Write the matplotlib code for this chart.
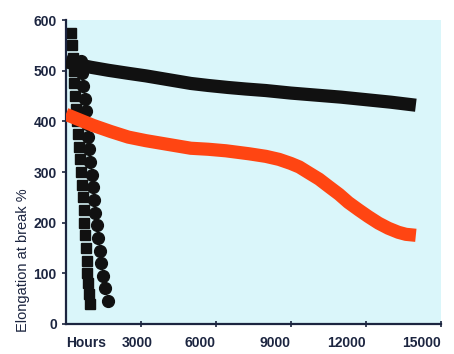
import numpy as np
import matplotlib
matplotlib.use("Agg")
import matplotlib.pyplot as plt
from matplotlib.transforms import ScaledTranslation

# ── Données ──────────────────────────────────────────────────────────────────
black_hours = [0, 500, 1000, 1700, 2500, 3200, 3800, 4400, 5000, 5700, 6500,
               7200, 8000, 9000, 10000, 11000, 12000, 13000, 14000]
black_elong = [518, 512, 507, 501, 495, 490, 485, 480, 475, 471, 467,
               464, 461, 456, 452, 448, 443, 438, 432]

orange_hours = [0, 500, 1100, 1800, 2500, 3200, 3800, 4400, 5000, 5700, 6400,
                7340, 8000, 8530, 9000, 9340, 9700, 10130, 10500, 10930, 11300,
                11720, 12100, 12510, 12900, 13300, 13600, 14000]
orange_elong = [414, 404, 392, 380, 369, 362, 357, 352, 347, 345, 342,
                336, 331, 325, 317, 310, 299, 286, 272, 256, 240,
                225, 212, 199, 189, 181, 177, 175]

sq_hours = [220, 250, 280, 310, 340, 370, 400, 440, 480, 520, 560, 600,
            640, 680, 710, 740, 770, 800, 830, 860, 900, 940, 980]
sq_elong = [575, 550, 525, 500, 475, 450, 425, 400, 375, 350, 325, 300,
            275, 250, 225, 200, 175, 150, 125, 100, 80, 60, 40]

dot_hours = [600, 650, 700, 760, 800, 850, 900, 940, 980, 1030, 1080, 1130,
             1180, 1240, 1300, 1360, 1420, 1500, 1580, 1680]
dot_elong = [520, 495, 470, 445, 420, 395, 370, 345, 320, 295, 270, 245,
             220, 195, 170, 145, 120, 95, 70, 45]

x_ticks = [3000, 6000, 9000, 12000, 15000]
y_ticks = [0, 100, 200, 300, 400, 500, 600]

NAVY = "#1c2540"
plt.rcParams["font.family"] = ["Liberation Sans", "DejaVu Sans"]

fig = plt.figure(figsize=(4.54, 3.54), dpi=100)
ax = fig.add_axes([0.145, 0.085, 0.826, 0.858])
ax.set_facecolor("#daf6fa")

# points (en dessous des courbes)
ax.plot(sq_hours, sq_elong, ls="none", marker="s", ms=7.5, color="#111111", zorder=2)
ax.plot(dot_hours, dot_elong, ls="none", marker="o", ms=8.5, color="#111111", zorder=2)

# courbes épaisses
ax.plot(black_hours, black_elong, color="#111111", lw=9.5,
        solid_capstyle="butt", solid_joinstyle="round", zorder=3)
ax.plot(orange_hours, orange_elong, color="#ff4512", lw=9.5,
        solid_capstyle="butt", solid_joinstyle="round", zorder=3)

ax.set_xlim(0, 15000)
ax.set_ylim(0, 600)
ax.set_xticks(x_ticks)
ax.set_yticks(y_ticks)
ax.tick_params(axis="both", colors=NAVY, labelsize=10, length=3, width=1.2)
ax.tick_params(axis="x", direction="inout", length=5, pad=6)
xlabs = ax.get_xticklabels()
for lab in xlabs + ax.get_yticklabels():
    lab.set_fontweight("bold")
    lab.set_color(NAVY)
for lab in xlabs:
    lab.set_ha("right")
# le « 3000 » est décalé vers la droite sur l'original
xlabs[0].set_transform(xlabs[0].get_transform() +
                       ScaledTranslation(12 / 100, 0, fig.dpi_scale_trans))

for s in ["top", "right"]:
    ax.spines[s].set_visible(False)
for s in ["left", "bottom"]:
    ax.spines[s].set_color(NAVY)
    ax.spines[s].set_linewidth(1.6)

ax.set_ylabel("Elongation at break %", fontsize=10.5, color=NAVY)
ax.yaxis.set_label_coords(-0.095, 0.21)
ax.text(0, -0.063, "Hours", transform=ax.get_xaxis_transform(),
        ha="left", va="center", fontsize=10, fontweight="bold", color=NAVY)

fig.savefig("out.png", dpi=100)
plt.close()
